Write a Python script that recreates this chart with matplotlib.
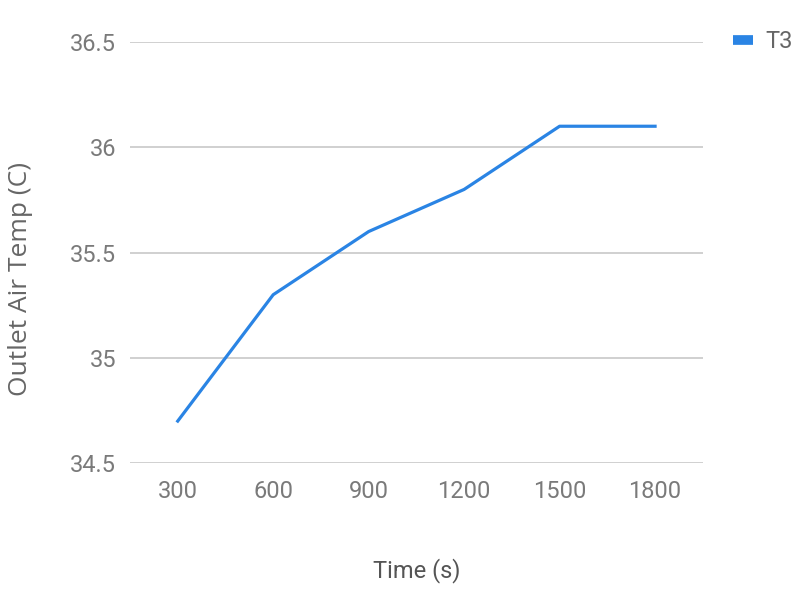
import matplotlib.pyplot as plt
from matplotlib.lines import Line2D

time_s = [300, 600, 900, 1200, 1500, 1800]
t3_temp = [34.7, 35.3, 35.6, 35.8, 36.1, 36.1]
y_ticks = [34.5, 35, 35.5, 36, 36.5]
y_labels = ['34.5', '35', '35.5', '36', '36.5']

blue = '#2a84e4'
grey_text = '#7a7a7a'

fig = plt.figure(figsize=(8, 6), dpi=100)
ax = fig.add_axes([0.1625, 0.228, 0.716, 0.702])

ax.plot(time_s, t3_temp, color=blue, linewidth=2.3, solid_joinstyle='round')

ax.set_xlim(150, 1950)
ax.set_ylim(34.5, 36.5)
ax.set_xticks(time_s)
ax.set_xticklabels([str(t) for t in time_s])
ax.set_yticks(y_ticks)
ax.set_yticklabels(y_labels)

for s in ax.spines.values():
    s.set_visible(False)
ax.grid(True, axis='y', color='#d0d0d0', linewidth=1.4)
ax.set_axisbelow(True)
ax.tick_params(length=0, labelsize=17, labelcolor=grey_text, pad=10)
for lab in ax.get_xticklabels() + ax.get_yticklabels():
    lab.set_fontfamily('Roboto')
ax.tick_params(axis='x', pad=12)

ax.set_xlabel('Time (s)', fontsize=17, color='#555555', family='Roboto', labelpad=40)
fig.text(0.026, 0.535, 'Outlet Air Temp (C)', rotation=90, fontsize=19,
         color='#666666', family='Open Sans', ha='center', va='center')

handle = Line2D([], [], color=blue, linewidth=7, solid_capstyle='butt')
leg = fig.legend([handle], ['T3'], loc='center left', bbox_to_anchor=(0.916, 0.93),
                 frameon=False, handletextpad=0.55, handlelength=0.85,
                 borderaxespad=0, borderpad=0,
                 prop={'family': 'Roboto', 'size': 17})
for txt in leg.get_texts():
    txt.set_color('#666666')

fig.savefig('out.png', dpi=100)
